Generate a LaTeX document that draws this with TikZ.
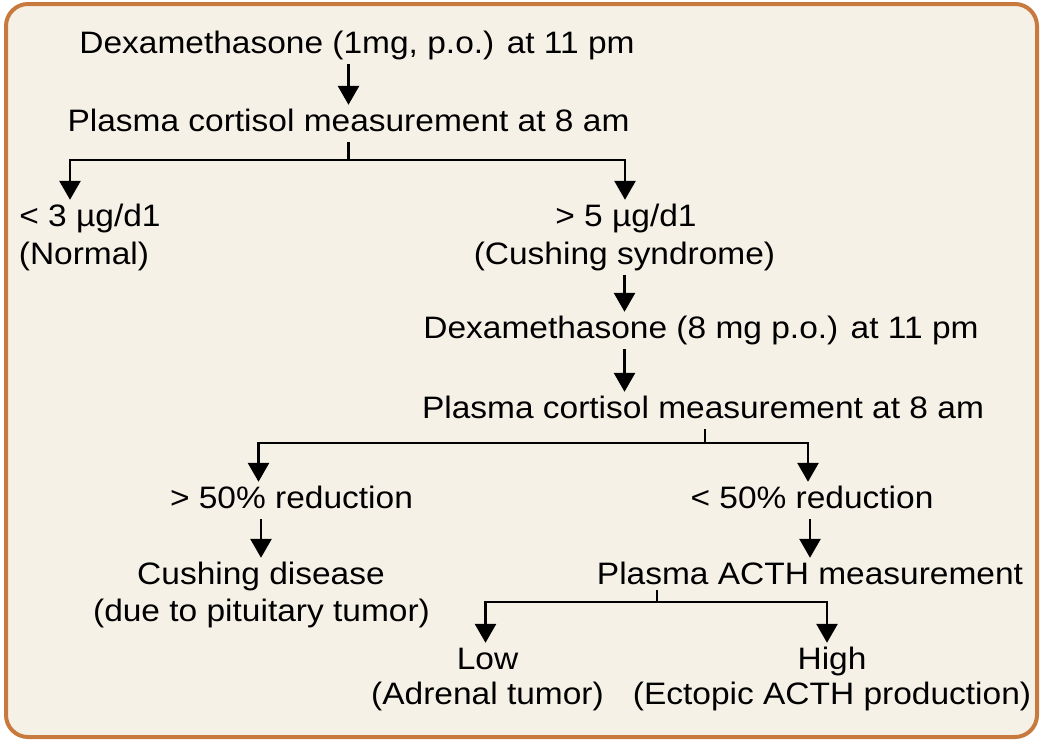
\documentclass[tikz,border=0pt]{standalone}
\usepackage{fontspec}
\setmainfont[FakeStretch=1.08]{Liberation Sans}
\usetikzlibrary{arrows.meta}

\definecolor{framebrown}{RGB}{200,122,62}
\definecolor{paper}{RGB}{246,241,231}

\begin{document}
\begin{tikzpicture}[x=1pt, y=-1pt,
    txt/.style={anchor=base, inner xsep=0pt, inner ysep=4pt, text height=22pt, text depth=7pt,
        font=\fontsize{31}{37}\selectfont},
    link/.style={line width=2.8pt},
    arr/.style={link, -{Triangle[width=21pt, length=19pt]}}]
    \useasboundingbox (0,0) rectangle (1043,742);

    % Frame
    \draw[framebrown, fill=paper, line width=4pt, rounded corners=22pt] (6,4) rectangle (1037,737);

    % Screening test
    \node[txt] (dex1) at (357,53) {Dexamethasone (1mg, p.o.) at 11 pm};
    \node[txt] (pc1) at (348.5,131) {Plasma cortisol measurement at 8 am};
    \node[txt] (normal1) at (90,226) {< 3 µg/d1};
    \node[txt] (normal2) at (84,264) {(Normal)};
    \node[txt] (cush1) at (626,226) {> 5 µg/d1};
    \node[txt] (cush2) at (624.5,264) {(Cushing syndrome)};

    % High dose test
    \node[txt] (dex8) at (701,338) {Dexamethasone (8 mg p.o.) at 11 pm};
    \node[txt] (pc2) at (703,418) {Plasma cortisol measurement at 8 am};
    \node[txt] (gt50) at (291.5,508) {> 50\% reduction};
    \node[txt] (lt50) at (812,508) {< 50\% reduction};
    \node[txt] (dis1) at (261,584) {Cushing disease};
    \node[txt] (dis2) at (261.5,621) {(due to pituitary tumor)};
    \node[txt] (acth) at (810,584) {Plasma ACTH measurement};

    % ACTH outcome
    \node[txt] (low1) at (487.5,669) {Low};
    \node[txt] (low2) at (487.5,704) {(Adrenal tumor)};
    \node[txt] (high1) at (832,669) {High};
    \node[txt] (high2) at (832,704) {(Ectopic ACTH production)};

    % Branch points
    \coordinate (j1) at (348.5,160);
    \coordinate (j2) at (705,443);
    \coordinate (j3) at (657,602);

    % Arrows
    \draw[arr] (dex1.south -| pc1.north) -- (pc1.north);
    \draw[link] (j1 |- pc1.south) -- (j1);
    \draw[arr] (j1) -| ([xshift=-20pt]normal1.north);
    \draw[arr] (j1) -| ([xshift=-1pt]cush1.north);
    \draw[arr] (cush2.south) -- (dex8.north -| cush2.south);
    \draw[arr] (dex8.south -| cush2.south) -- (pc2.north -| cush2.south);
    \draw[link] (j2 |- pc2.south) -- (j2);
    \draw[arr] (j2) -| ([xshift=-33pt]gt50.north);
    \draw[arr] (j2) -| ([xshift=-4pt]lt50.north);
    \draw[arr] (gt50.south -| dis1.north) -- (dis1.north);
    \draw[arr] (lt50.south -| acth.north) -- (acth.north);
    \draw[link] (j3 |- acth.south) ++(0,-5) -- (j3);
    \draw[arr] (j3) -| ([xshift=-2pt]low1.north);
    \draw[arr] (j3) -| ([xshift=-5pt]high1.north);
\end{tikzpicture}
\end{document}
